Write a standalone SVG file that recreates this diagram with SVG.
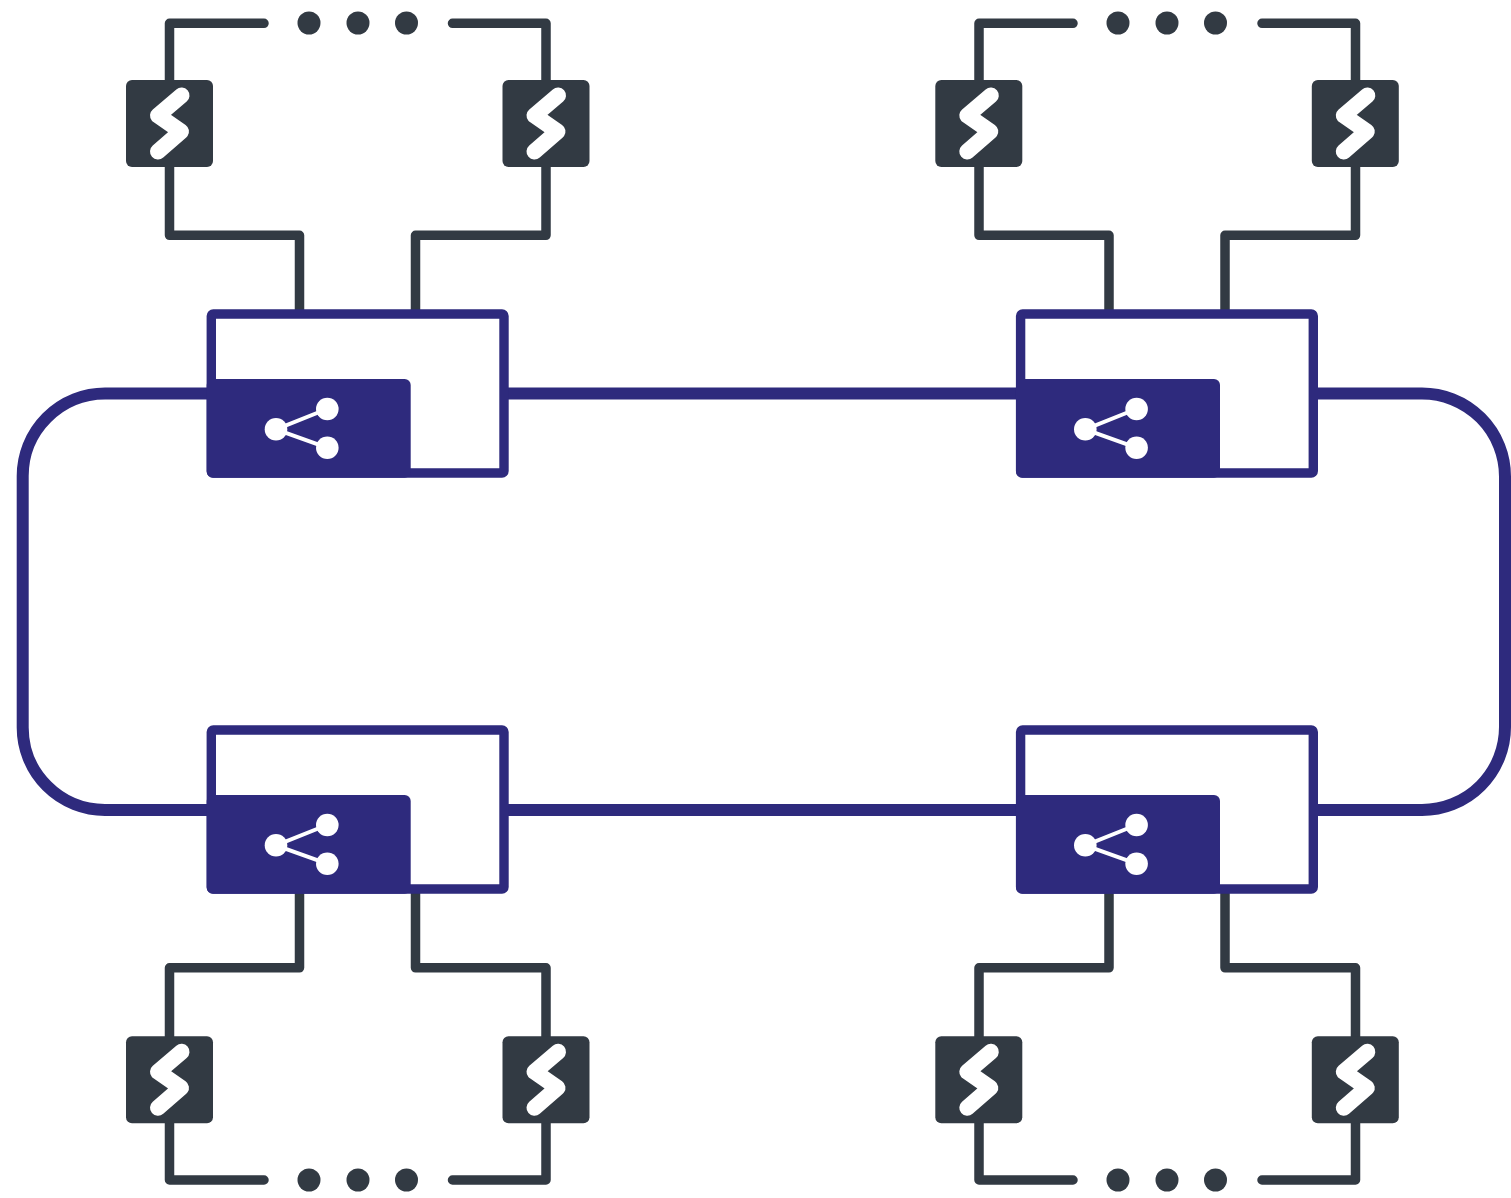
<svg xmlns="http://www.w3.org/2000/svg" xmlns:xlink="http://www.w3.org/1999/xlink" width="1511" height="1198" viewBox="0 0 1511 1198">
<style>
.bg{fill:#fff}
.wire{fill:none;stroke:#323a43;stroke-width:9.500;stroke-linejoin:round;stroke-linecap:round}
.ring{fill:none;stroke:#2e2a7d;stroke-width:12}
.dot{fill:#323a43}
.box{fill:#fff;stroke:#2e2a7d;stroke-width:9.400;stroke-linejoin:round}
.panel{fill:#2e2a7d}
.share-line{fill:none;stroke:#fff;stroke-width:4}
.share-dot{fill:#fff}
.dev{fill:#323a43}
.bolt{fill:none;stroke:#fff;stroke-width:16;stroke-linecap:round;stroke-linejoin:round}
</style>
<defs>
<g id="device">
<rect class="dev" x="0" y="0" width="87" height="87" rx="6"/>
<path class="bolt" d="M55.500,15.500 L32,35.500 L55,51.500 L32,71.500"/>
</g>
<g id="switch">
<rect class="box" x="211.300" y="314" width="292.700" height="159" rx="2"/>
<rect class="panel" x="206.700" y="379" width="204" height="98.700" rx="6"/>
<path class="share-line" d="M327,409 L276,429.300 L327,447.700"/>
<circle class="share-dot" cx="276" cy="429.300" r="11.300"/>
<circle class="share-dot" cx="327.300" cy="409" r="11.300"/>
<circle class="share-dot" cx="327.300" cy="447.700" r="11.300"/>
</g>
</defs>
<rect class="bg" width="1511" height="1198"/>
<g id="connectors">
<path class="ring" d="M105,393.500 H1422 A83,83 0 0 1 1505,476.500 V727 A83,83 0 0 1 1422,810 H105 A82.500,82.500 0 0 1 22.700,727.500 V476 A82.500,82.500 0 0 1 105,393.500 Z"/>
<g id="wires-top-left">
<path class="wire" d="M264,23.300 H169.500 V235.300 H299.500 V312"/>
<path class="wire" d="M452.500,23.300 H546 V235.300 H415.500 V312"/>
</g>
<g id="wires-top-right">
<path class="wire" d="M1073,23.300 H979 V235.300 H1109 V312"/>
<path class="wire" d="M1262,23.300 H1355.500 V235.300 H1225 V312"/>
</g>
<g id="wires-bottom-left">
<path class="wire" d="M264,1180 H169.500 V967.800 H299.500 V890"/>
<path class="wire" d="M452.500,1180 H546 V967.800 H415.500 V890"/>
</g>
<g id="wires-bottom-right">
<path class="wire" d="M1073,1180 H979 V967.800 H1109 V890"/>
<path class="wire" d="M1262,1180 H1355.500 V967.800 H1225 V890"/>
</g>
</g>
<g id="dots-top-left"><circle class="dot" cx="309" cy="23" r="11.500"/><circle class="dot" cx="358" cy="23" r="11.500"/><circle class="dot" cx="406.500" cy="23" r="11.500"/></g>
<g id="dots-top-right"><circle class="dot" cx="1118" cy="23" r="11.500"/><circle class="dot" cx="1167" cy="23" r="11.500"/><circle class="dot" cx="1215.500" cy="23" r="11.500"/></g>
<g id="dots-bottom-left"><circle class="dot" cx="309" cy="1180" r="11.500"/><circle class="dot" cx="358" cy="1180" r="11.500"/><circle class="dot" cx="406.500" cy="1180" r="11.500"/></g>
<g id="dots-bottom-right"><circle class="dot" cx="1118" cy="1180" r="11.500"/><circle class="dot" cx="1167" cy="1180" r="11.500"/><circle class="dot" cx="1215.500" cy="1180" r="11.500"/></g>
<g id="switch-top-left"><use href="#switch"/></g>
<g id="switch-top-right"><use href="#switch" x="809.300"/></g>
<g id="switch-bottom-left"><use href="#switch" y="416"/></g>
<g id="switch-bottom-right"><use href="#switch" x="809.300" y="416"/></g>
<g id="device-1"><use href="#device" x="126" y="80"/></g>
<g id="device-2"><use href="#device" x="502.500" y="80"/></g>
<g id="device-3"><use href="#device" x="935.300" y="80"/></g>
<g id="device-4"><use href="#device" x="1311.800" y="80"/></g>
<g id="device-5"><use href="#device" x="126" y="1036.300"/></g>
<g id="device-6"><use href="#device" x="502.500" y="1036.300"/></g>
<g id="device-7"><use href="#device" x="935.300" y="1036.300"/></g>
<g id="device-8"><use href="#device" x="1311.800" y="1036.300"/></g>
</svg>
